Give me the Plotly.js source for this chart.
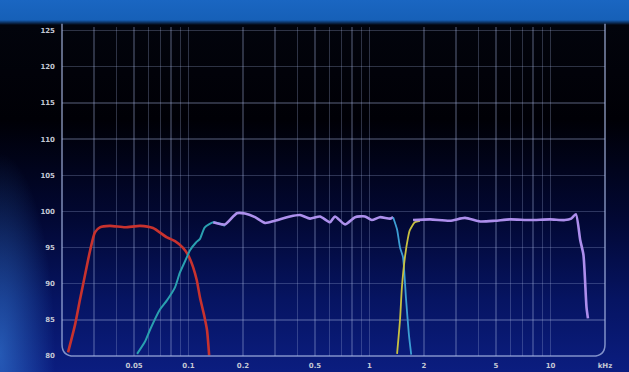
<!DOCTYPE html>
<html><head><meta charset="utf-8">
<script src="https://cdn.plot.ly/plotly-3.0.1.min.js"></script>
<style>
html,body{margin:0;padding:0;width:629px;height:372px;overflow:hidden;}
body{background:
 radial-gradient(ellipse 55px 200px at 0% 95%, rgba(60,140,230,0.55), rgba(0,0,0,0) 100%),
 linear-gradient(to bottom, #1a66c2 0px, #1660b8 20px, #02040c 25px, #000006 120px, #020834 220px, #061462 300px, #0b1d80 372px);}
#chart{width:629px;height:372px;}
</style></head>
<body><div id="chart"></div>
<script>
// Woofer (red)
const wooferF  = [0.0216,0.0236,0.0251,0.0268,0.0286,0.0304,0.0324,0.0368,0.0446,0.054,0.0637,0.076,0.0842,0.093,0.0994,0.106,0.111,0.1157,0.1218,0.1265,0.130];
const wooferDb = [80.5,84.3,87.7,91.2,94.6,97.1,97.8,98.0,97.8,98.0,97.7,96.4,95.9,95.0,94.0,92.3,90.5,88.1,85.7,83.6,80.1];
// Midrange rising slope (teal)
const midLowF  = [0.052,0.0575,0.0612,0.0694,0.076,0.0842,0.0895,0.0981,0.1017,0.110,0.1157,0.123,0.137,0.150,0.159];
const midLowDb = [80.3,82.0,83.6,86.4,87.7,89.5,91.5,93.7,94.6,95.7,96.2,97.8,98.5,98.3,98.0];
// Midrange top (purple)
const midF  = [0.137,0.159,0.185,0.205,0.233,0.265,0.30,0.364,0.413,0.469,0.533,0.605,0.644,0.732,0.832,0.944,1.03,1.14,1.30,1.35];
const midDb = [98.5,98.2,99.75,99.7,99.2,98.4,98.7,99.3,99.5,99.0,99.3,98.5,99.3,98.2,99.2,99.3,98.8,99.2,99.0,99.2];
// Midrange roll-off (cyan)
const midHiF  = [1.35,1.42,1.474,1.53,1.59,1.65,1.70];
const midHiDb = [99.2,97.5,95.0,93.7,88.0,83.0,80.2];
// Tweeter rising slope (yellow)
const twLowF  = [1.42,1.474,1.51,1.57,1.63,1.67,1.78,1.90];
const twLowDb = [80.3,85.0,89.5,93.7,96.3,97.4,98.5,98.7];
// Tweeter top (purple)
const twF  = [1.74,2.16,2.78,3.37,4.08,4.93,5.97,7.70,9.93,12.0,13.0,13.8,14.6,15.2,15.8,16.1];
const twDb = [98.8,98.9,98.7,99.1,98.6,98.7,98.9,98.8,98.9,98.8,99.0,99.6,96.0,94.0,86.8,85.2];

const gridVals = [0.02,0.03,0.04,0.05,0.06,0.07,0.08,0.09,0.1,0.2,0.3,0.4,0.5,0.6,0.7,0.8,0.9,1,2,3,4,5,6,7,8,9,10,20];
const labelMap = {0.05:'0.05',0.1:'0.1',0.2:'0.2',0.5:'0.5',1:'1',2:'2',5:'5',10:'10',20:'kHz'};
const gridText = gridVals.map(v => labelMap[v] || '');
const yTicks = [80,85,90,95,100,105,110,115,120,125];

function tr(x,y,color,w){return {x:x,y:y,type:'scatter',mode:'lines',line:{color:color,width:w,shape:'spline',smoothing:0.6},hoverinfo:'skip'};}
const data = [
  tr(wooferF,wooferDb,'#c8322e',2.6),
  tr(midLowF,midLowDb,'#2aa0b0',2),
  tr(midF,midDb,'#ad90ec',2.6),
  tr(midHiF,midHiDb,'#3c9ed4',1.8),
  tr(twLowF,twLowDb,'#c8c040',1.8),
  tr(twF,twDb,'#ad8eec',2.6)
];
const axFont = {family:'DejaVu Sans', size:7, color:'#c4c8d4', weight:'bold'};
const layout = {
  width:629, height:372,
  margin:{l:62,r:24,t:27,b:16},
  paper_bgcolor:'rgba(0,0,0,0)', plot_bgcolor:'rgba(0,0,0,0)',
  showlegend:false,
  xaxis:{type:'log', range:[Math.log10(0.02),Math.log10(20)], tickvals:gridVals, ticktext:gridText,
    showgrid:true, gridcolor:'rgba(165,180,225,0.27)', gridwidth:1.3, zeroline:false, showline:false,
    ticks:'', tickfont:axFont, ticklabelstandoff:4},
  yaxis:{range:[80,125.5], tickvals:yTicks, showgrid:true, gridcolor:'rgba(165,180,225,0.27)', gridwidth:1.3,
    zeroline:false, showline:false, ticks:'', tickfont:axFont, ticklabelstandoff:6},
  shapes:[{type:'path', xref:'paper', yref:'paper',
    path:'M 0,1.01 L 0,0.036 Q 0,0 0.022,0 L 0.978,0 Q 1,0 1,0.036 L 1,1.01',
    line:{color:'rgba(170,185,230,0.75)', width:1.5}}]
};
Plotly.newPlot('chart', data, layout, {staticPlot:true, displayModeBar:false});
</script></body></html>
